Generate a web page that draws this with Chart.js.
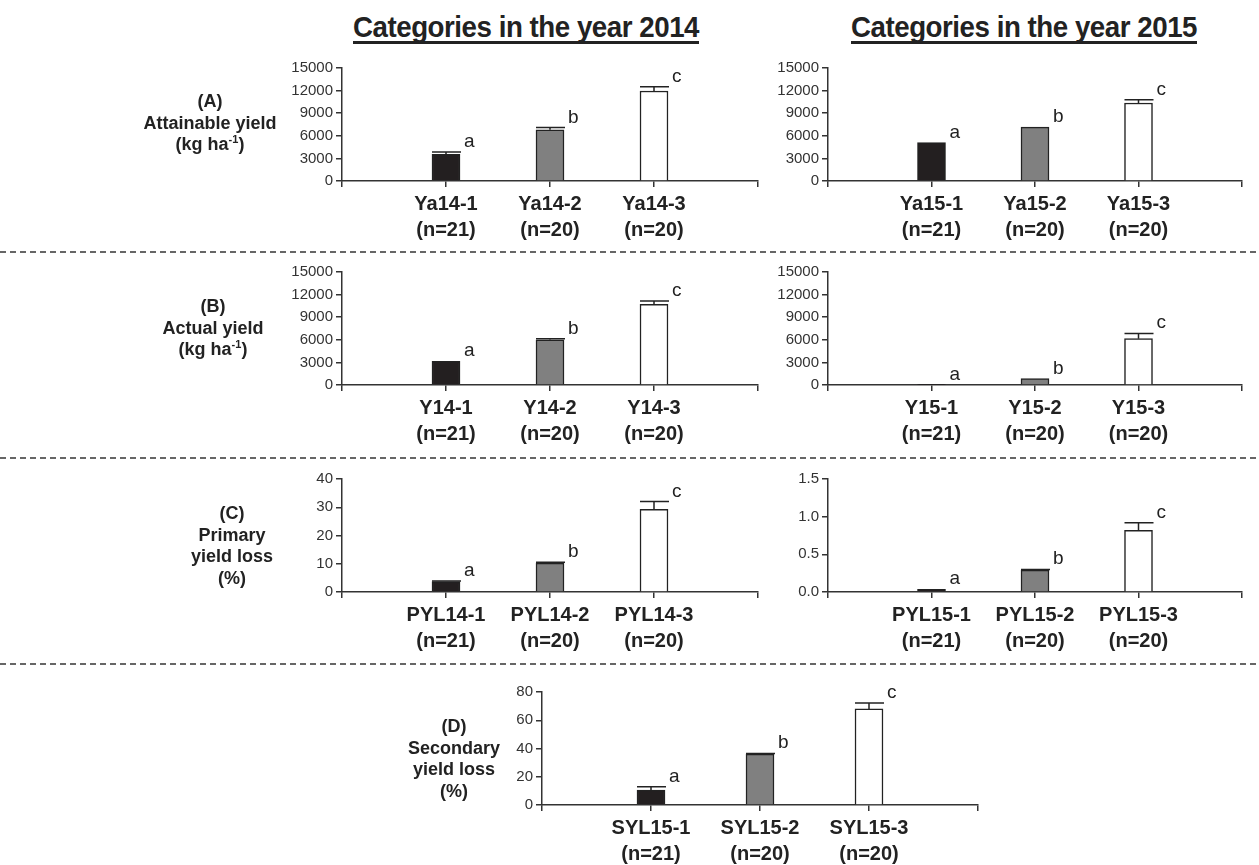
<!DOCTYPE html>
<html>
<head>
<meta charset="utf-8">
<title>Yield categories 2014 / 2015</title>
<script src="https://cdn.jsdelivr.net/npm/chart.js@4.4.1/dist/chart.umd.min.js"></script>
<style>
  body { margin: 0; background: #fff; }
  #page { position: relative; width: 1259px; height: 865px; overflow: hidden;
          font-family: "Liberation Sans", Arial, sans-serif; color: #222; }
  .panel { position: absolute; }
  .title { position: absolute; top: 12px; font-size: 30px; line-height: 30px; font-weight: bold;
           letter-spacing: -0.5px; white-space: nowrap; transform-origin: 0 0; }
  .uline { position: absolute; top: 41px; height: 3px; background: #222; }
  .rowlab { position: absolute; width: 200px; text-align: center; font-weight: bold;
            font-size: 18px; line-height: 21.5px; }
  .rowlab sup { font-size: 11px; line-height: 0; }
  .dash { position: absolute; left: 0; width: 1259px; height: 2px;
          background: repeating-linear-gradient(to right, #666 0 6px, transparent 6px 10px); }
</style>
</head>
<body>
<div id="page"></div>
<script>
// sample sizes and significance letters (same for every panel)
var nLabels = ['(n=21)', '(n=20)', '(n=20)'];
var letters = ['a', 'b', 'c'];
var barColors = ['#231f20', '#808080', '#ffffff'];

// categories
var catYa14 = ['Ya14-1', 'Ya14-2', 'Ya14-3'];
var catYa15 = ['Ya15-1', 'Ya15-2', 'Ya15-3'];
var catY14 = ['Y14-1', 'Y14-2', 'Y14-3'];
var catY15 = ['Y15-1', 'Y15-2', 'Y15-3'];
var catPYL14 = ['PYL14-1', 'PYL14-2', 'PYL14-3'];
var catPYL15 = ['PYL15-1', 'PYL15-2', 'PYL15-3'];
var catSYL15 = ['SYL15-1', 'SYL15-2', 'SYL15-3'];

// means and upper error bars
var ya14 = [3550, 6800, 11950];   var ya14Err = [300, 300, 550];
var ya15 = [5100, 7150, 10350];   var ya15Err = [0, 0, 450];
var y14 = [3150, 6000, 10700];    var y14Err = [0, 150, 450];
var y15 = [20, 850, 6150];        var y15Err = [0, 0, 700];
var pyl14 = [3.7, 10.2, 29.3];    var pyl14Err = [0.2, 0.3, 2.7];
var pyl15 = [0.035, 0.29, 0.82];  var pyl15Err = [0, 0.01, 0.1];
var syl15 = [10.5, 36, 68];       var syl15Err = [2.5, 0.5, 4.3];

// y axis ticks
var ticksYield = [0, 3000, 6000, 9000, 12000, 15000];
var ticksPYL14 = [0, 10, 20, 30, 40];
var ticksPYL15 = [0, 0.5, 1.0, 1.5];
var ticksSYL15 = [0, 20, 40, 60, 80];

var page = document.getElementById('page');
var YW = 70, XH = 66;
var ink = '#222';

function makePanel(p) {
    var box = document.createElement('div');
    box.className = 'panel';
    var cv = document.createElement('canvas');
    box.appendChild(cv);
    page.appendChild(box);

    var labels = [''].concat(p.cats.map(function (c, i) { return [c, nLabels[i]]; }), ['']);
    var data = [null].concat(p.vals, [null]);

    // error bars + letters, positioned from the bar elements and the y scale
    var errPlugin = {
        id: 'errs',
        afterDatasetsDraw: function (chart) {
            var ctx = chart.ctx;
            var ys = chart.scales.y;
            var bars = chart.getDatasetMeta(0).data;
            ctx.save();
            ctx.strokeStyle = ink;
            ctx.lineWidth = 1.5;
            ctx.fillStyle = ink;
            ctx.font = '19px "Liberation Sans", Arial, sans-serif';
            ctx.textBaseline = 'alphabetic';
            for (var k = 0; k < 3; k++) {
                var bar = bars[k + 1];
                var hw = bar.width / 2;
                var top = bar.y;
                if (p.errs[k] > 0) {
                    var ey = ys.getPixelForValue(p.vals[k] + p.errs[k]);
                    ctx.beginPath();
                    ctx.moveTo(bar.x, top);
                    ctx.lineTo(bar.x, ey);
                    ctx.moveTo(bar.x - hw, ey);
                    ctx.lineTo(bar.x + hw + 1, ey);
                    ctx.stroke();
                    top = ey;
                }
                ctx.fillText(letters[k], bar.x + hw + 4, top - 5);
            }
            ctx.restore();
        }
    };

    var W = YW + p.w + 10, H = p.h + 30 + XH;
    cv.width = W; cv.height = H;
    cv.style.width = W + 'px'; cv.style.height = H + 'px';

    var chart = new Chart(cv, {
        type: 'bar',
        data: {
            labels: labels,
            datasets: [{
                data: data,
                backgroundColor: [null].concat(barColors, [null]),
                borderColor: ink,
                borderWidth: 1.5,
                barThickness: 28
            }]
        },
        options: {
            responsive: false,
            maintainAspectRatio: false,
            animation: false,
            layout: { padding: { top: 4, right: 8, left: 0, bottom: 0 } },
            plugins: { legend: { display: false }, tooltip: { enabled: false } },
            scales: {
                x: {
                    type: 'category',
                    offset: false,
                    grid: { offset: false, drawOnChartArea: false, tickLength: 6, color: '#333', lineWidth: 1.5 },
                    border: { color: '#333', width: 1.5 },
                    ticks: {
                        autoSkip: false, maxRotation: 0, padding: 4, color: ink,
                        font: { family: '"Liberation Sans", Arial, sans-serif', size: 20, weight: 'bold', lineHeight: 1.3 }
                    },
                    afterFit: function (s) { s.height = XH; }
                },
                y: {
                    min: p.ticks[0],
                    max: p.ticks[p.ticks.length - 1],
                    afterBuildTicks: function (s) {
                        s.ticks = p.ticks.map(function (v) { return { value: v }; });
                    },
                    grid: { drawOnChartArea: false, tickLength: 6, color: '#333', lineWidth: 1.5 },
                    border: { color: '#333', width: 1.5 },
                    ticks: {
                        padding: 3, color: '#333',
                        font: { family: '"Liberation Sans", Arial, sans-serif', size: 15 },
                        callback: function (v) { return p.dec ? Number(v).toFixed(1) : String(v); }
                    },
                    afterFit: function (s) { s.width = YW; }
                }
            }
        },
        plugins: [errPlugin]
    });

    // fit the plot area to the target rectangle
    var ca = chart.chartArea;
    W += p.w - (ca.right - ca.left);
    H += p.h - (ca.bottom - ca.top);
    cv.style.width = W + 'px'; cv.style.height = H + 'px';
    chart.resize(W, H);
    ca = chart.chartArea;
    box.style.left = (p.x - ca.left) + 'px';
    box.style.top = (p.y - ca.top) + 'px';
}

var panels = [
    { cats: catYa14, vals: ya14, errs: ya14Err, ticks: ticksYield, x: 342, y: 68, w: 416, h: 113 },
    { cats: catYa15, vals: ya15, errs: ya15Err, ticks: ticksYield, x: 828, y: 68, w: 414, h: 113 },
    { cats: catY14, vals: y14, errs: y14Err, ticks: ticksYield, x: 342, y: 272, w: 416, h: 113 },
    { cats: catY15, vals: y15, errs: y15Err, ticks: ticksYield, x: 828, y: 272, w: 414, h: 113 },
    { cats: catPYL14, vals: pyl14, errs: pyl14Err, ticks: ticksPYL14, x: 342, y: 479, w: 416, h: 113 },
    { cats: catPYL15, vals: pyl15, errs: pyl15Err, ticks: ticksPYL15, dec: true, x: 828, y: 479, w: 414, h: 113 },
    { cats: catSYL15, vals: syl15, errs: syl15Err, ticks: ticksSYL15, x: 542, y: 692, w: 436, h: 113 }
];
panels.forEach(makePanel);

// column titles (condensed to the width they take in the original)
function addTitle(text, left, width) {
    var t = document.createElement('div');
    t.className = 'title';
    t.textContent = text;
    t.style.left = left + 'px';
    page.appendChild(t);
    var natural = t.getBoundingClientRect().width;
    t.style.transform = 'scaleX(' + (width / natural) + ')';
    var u = document.createElement('div');
    u.className = 'uline';
    u.style.left = left + 'px';
    u.style.width = width + 'px';
    page.appendChild(u);
}
addTitle('Categories in the year 2014', 353, 346);
addTitle('Categories in the year 2015', 851, 346);

// row labels
function addRowLabel(lines, cx, firstY) {
    var d = document.createElement('div');
    d.className = 'rowlab';
    d.innerHTML = lines.join('<br>');
    d.style.left = (cx - 100) + 'px';
    d.style.top = (firstY - 10.75) + 'px';
    page.appendChild(d);
}
addRowLabel(['(A)', 'Attainable yield', '(kg ha<sup>-1</sup>)'], 210, 102);
addRowLabel(['(B)', 'Actual yield', '(kg ha<sup>-1</sup>)'], 213, 307);
addRowLabel(['(C)', 'Primary', 'yield loss', '(%)'], 232, 514);
addRowLabel(['(D)', 'Secondary', 'yield loss', '(%)'], 454, 727);

// dashed separators
[251, 457, 663].forEach(function (y) {
    var d = document.createElement('div');
    d.className = 'dash';
    d.style.top = y + 'px';
    page.appendChild(d);
});
</script>
</body>
</html>
